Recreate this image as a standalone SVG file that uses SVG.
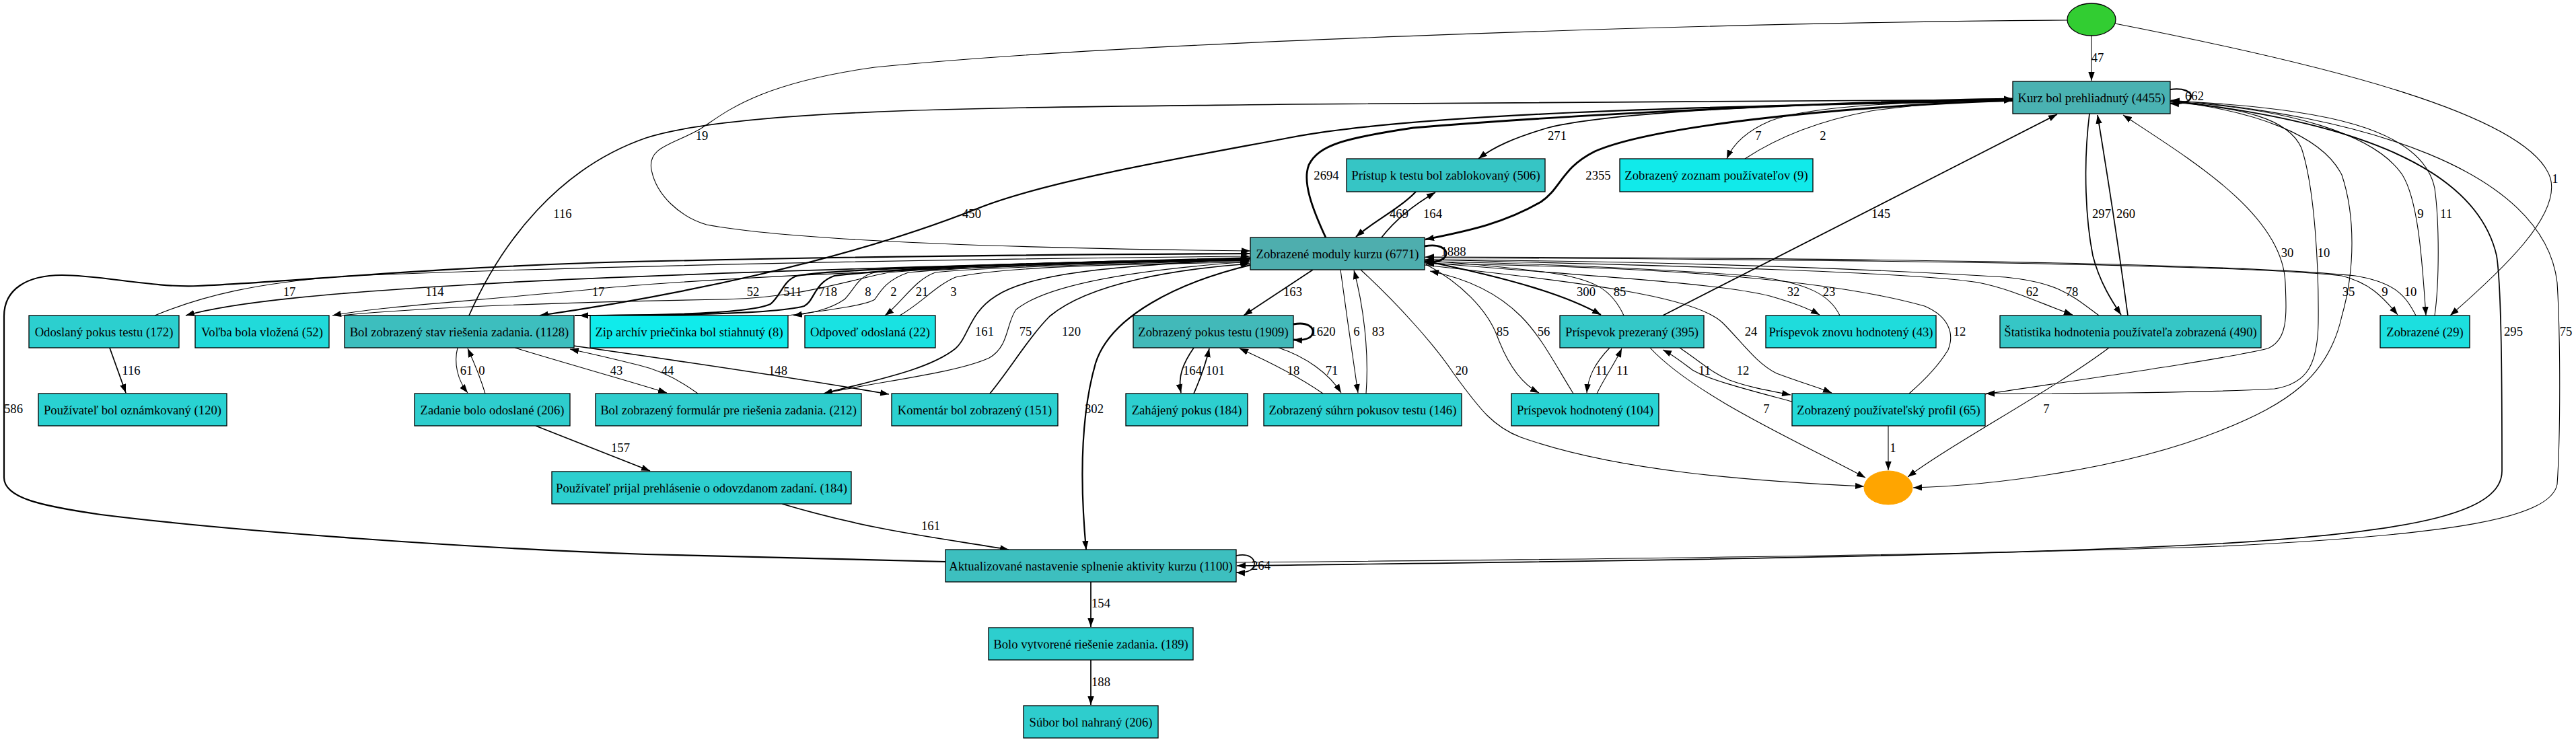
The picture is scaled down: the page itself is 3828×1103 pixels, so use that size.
<svg xmlns="http://www.w3.org/2000/svg" width="3828" height="1103" viewBox="0 0 3828 1103">
<style>
.n rect{stroke:#000;stroke-width:1.3}
.t{font-family:"Liberation Serif","Times New Roman",serif;font-size:18.67px;text-anchor:middle;fill:#000}
#edges path{fill:none;stroke:#000;marker-end:url(#a)}
.s1{stroke-width:1.1}
.s2{stroke-width:1.7}
.s3{stroke-width:2.2}
.s4{stroke-width:2.8}
</style>
<defs>
<marker id="a" markerUnits="userSpaceOnUse" markerWidth="14" markerHeight="10" refX="13" refY="5" orient="auto" viewBox="0 0 14 10">
<path d="M0,0.3 L13,5 L0,9.7 z" fill="#000"/>
</marker>
</defs>
<rect width="3828" height="1103" fill="#fff"/>
<g id="edges">
<path class="s1" d="M3108,53 L3108,120"/>
<path class="s1" d="M3143,35 C3450,95 3760,170 3790,265 C3805,320 3720,400 3641,469"/>
<path class="s1" d="M3072,30 C2600,33 1700,60 1300,100 C1120,125 1075,170 1040,192 C1000,215 962,218 968,252 C975,290 1010,322 1050,334 C1200,362 1600,370 1858,373"/>
<path class="s2" d="M697,469 C745,360 830,250 960,205 C1100,160 1500,160 1920,155 C2400,150 2800,149 2991,148"/>
<path class="s3" d="M2991,150 C2500,158 2100,170 1920,204 C1750,236 1550,270 1450,311 C1250,390 1000,440 802,469"/>
<path class="s4" d="M1970,353 C1950,310 1935,270 1945,245 C1960,215 2000,205 2100,190 C2400,165 2800,150 2991,147"/>
<path class="s4" d="M2991,149 C2700,160 2450,190 2370,225 C2320,250 2320,280 2290,300 C2230,335 2170,345 2118,356"/>
<path class="s2" d="M2991,148 C2600,155 2380,170 2300,190 C2250,205 2220,218 2197,236"/>
<path class="s1" d="M2991,148 C2800,152 2680,160 2630,180 C2595,195 2575,215 2566,236"/>
<path class="s1" d="M2593,236 C2640,205 2700,180 2780,165 C2850,155 2920,150 2991,149"/>
<path class="s3" d="M3225,133 C3246,130 3256,137 3256,143 C3256,150 3246,155 3225,154"/>
<path class="s2" d="M2471,469 L3057,170"/>
<path class="s2" d="M3105,169 C3095,250 3100,330 3110,380 C3120,420 3140,450 3152,468"/>
<path class="s2" d="M3162,469 C3150,380 3130,250 3117,171"/>
<path class="s1" d="M2950,586 C3100,563 3300,535 3370,518 C3400,505 3398,470 3396,420 C3392,320 3260,240 3155,171"/>
<path class="s1" d="M3225,152 C3330,160 3400,175 3420,220 C3440,280 3446,400 3445,480 C3444,540 3430,570 3380,578 C3250,585 3050,585 2951,585"/>
<path class="s1" d="M3225,150 C3350,165 3450,200 3480,260 C3500,320 3500,400 3480,470 C3460,560 3400,600 3300,640 C3150,700 2950,722 2843,725"/>
<path class="s1" d="M3225,151 C3400,160 3530,200 3570,260 C3595,300 3600,400 3605,469"/>
<path class="s1" d="M3618,469 C3625,420 3625,330 3618,280 C3600,190 3450,160 3226,150"/>
<path class="s2" d="M3225,150 C3500,180 3680,250 3710,380 C3718,430 3718,600 3718,700 C3718,760 3600,790 3300,808 C2900,830 2200,836 1838,841"/>
<path class="s1" d="M1837,836 C2300,832 2900,826 3300,812 C3650,795 3790,770 3800,720 C3805,650 3805,500 3800,420 C3780,250 3500,170 3226,149"/>
<path class="s2" d="M1837,826 C1856,822 1864,830 1864,838 C1864,846 1856,852 1837,851"/>
<path class="s3" d="M1405,835 C1250,830 1100,828 960,824 C700,815 350,790 150,765 C60,752 6,740 6,710 L6,470 C6,430 40,409 92,409 C150,409 230,428 294,425 C450,418 600,400 900,390 C1300,380 1600,378 1857,377"/>
<path class="s3" d="M1858,394 C1750,420 1650,470 1628,540 C1605,620 1605,720 1614,817"/>
<path class="s2" d="M1162,749 C1300,790 1400,800 1499,817"/>
<path class="s2" d="M796,633 L966,700"/>
<path class="s2" d="M1621,865 L1621,932"/>
<path class="s2" d="M1621,981 L1621,1048"/>
<path class="s2" d="M163,517 L187,584"/>
<path class="s1" d="M680,517 C674,540 680,565 695,584"/>
<path class="s1" d="M721,585 C715,565 705,540 695,518"/>
<path class="s1" d="M765,517 C840,540 930,565 991,584"/>
<path class="s1" d="M1037,585 C1010,565 980,550 950,543 C910,533 880,526 847,519"/>
<path class="s2" d="M852,514 C1000,535 1200,565 1321,586"/>
<path class="s2" d="M1858,384 C1700,395 1540,400 1480,440 C1440,465 1440,500 1420,518 C1380,550 1300,565 1224,585"/>
<path class="s1" d="M1224,585 C1300,568 1420,555 1470,532 C1500,515 1495,480 1510,460 C1560,420 1700,400 1857,389"/>
<path class="s2" d="M1471,585 C1500,550 1530,500 1560,470 C1620,420 1750,400 1857,392"/>
<path class="s1" d="M230,469 C300,440 380,420 520,410 C900,395 1400,385 1857,381"/>
<path class="s2" d="M1858,383 C1400,395 900,410 700,423 C500,435 350,448 276,469"/>
<path class="s1" d="M1858,385 C1500,395 1100,410 900,428 C700,448 560,456 494,469"/>
<path class="s1" d="M505,469 C650,455 900,448 1080,445 C1180,443 1250,420 1320,405 C1500,390 1700,386 1857,385"/>
<path class="s3" d="M1858,384 C1550,392 1250,398 1185,410 C1165,415 1160,440 1145,452 C1110,468 950,469 861,469"/>
<path class="s3" d="M854,469 C950,469 1150,468 1195,455 C1210,448 1210,420 1240,410 C1400,392 1650,388 1856,387"/>
<path class="s1" d="M1858,386 C1650,390 1400,396 1300,405 C1275,410 1270,430 1255,445 C1230,462 1200,466 1179,469"/>
<path class="s1" d="M1171,469 C1220,462 1285,455 1300,445 C1310,430 1320,415 1350,405 C1500,392 1700,389 1856,388"/>
<path class="s1" d="M1858,387 C1650,392 1450,398 1390,405 C1360,415 1340,450 1315,469"/>
<path class="s1" d="M1337,469 C1370,450 1390,425 1420,412 C1500,395 1700,392 1856,390"/>
<path class="s2" d="M1951,401 L1848,469"/>
<path class="s4" d="M1922,482 C1944,478 1951,487 1951,493 C1951,500 1944,507 1922,505"/>
<path class="s2" d="M1774,517 C1758,540 1750,560 1755,584"/>
<path class="s2" d="M1774,585 C1785,560 1792,540 1797,518"/>
<path class="s1" d="M1966,585 C1930,560 1880,535 1842,518"/>
<path class="s1" d="M1900,517 C1940,530 1975,555 1993,584"/>
<path class="s1" d="M1992,401 C2000,460 2010,530 2018,584"/>
<path class="s1" d="M2030,585 C2035,520 2025,450 2012,402"/>
<path class="s4" d="M2117,366 C2140,362 2149,370 2149,377 C2149,384 2140,391 2117,389"/>
<path class="s1" d="M2119,393 C2170,420 2210,460 2225,500 C2240,540 2260,570 2287,584"/>
<path class="s1" d="M2338,585 C2310,540 2290,500 2260,470 C2220,430 2170,412 2125,403"/>
<path class="s3" d="M2117,388 C2250,415 2330,440 2379,468"/>
<path class="s1" d="M2413,469 C2395,430 2370,415 2300,405 C2220,395 2160,390 2118,388"/>
<path class="s1" d="M2392,517 C2370,540 2360,560 2358,584"/>
<path class="s1" d="M2373,585 C2385,560 2400,540 2410,518"/>
<path class="s1" d="M2496,517 C2530,540 2545,555 2570,565 C2600,576 2630,581 2661,587"/>
<path class="s1" d="M2663,597 C2600,580 2540,565 2515,550 C2495,535 2485,527 2471,520"/>
<path class="s1" d="M2452,517 C2520,590 2680,660 2772,710"/>
<path class="s1" d="M2022,401 C2075,450 2130,510 2160,555 C2200,610 2220,635 2260,650 C2400,700 2600,715 2770,723"/>
<path class="s1" d="M2806,633 L2806,699"/>
<path class="s1" d="M3134,517 C3050,580 2900,660 2835,709"/>
<path class="s1" d="M2117,390 C2350,410 2550,420 2630,440 C2665,450 2690,460 2704,468"/>
<path class="s1" d="M2734,469 C2720,440 2690,420 2600,410 C2400,395 2200,390 2118,389"/>
<path class="s1" d="M2117,386 C2500,395 2850,405 2940,420 C2990,430 3030,450 3080,468"/>
<path class="s1" d="M3119,469 C3080,440 3060,420 2980,412 C2700,395 2400,388 2118,386"/>
<path class="s1" d="M2117,383 C2600,385 3300,390 3480,410 C3520,420 3540,440 3563,468"/>
<path class="s1" d="M3590,469 C3575,440 3560,420 3500,410 C3300,390 2700,383 2118,382"/>
<path class="s1" d="M2837,585 C2860,565 2880,545 2895,520 C2905,495 2895,470 2860,455 C2700,410 2400,395 2118,392"/>
<path class="s1" d="M2117,394 C2350,420 2520,440 2560,480 C2590,510 2610,540 2640,555 C2680,570 2700,575 2722,584"/>
<path class="s3" d="M2104,285 C2080,310 2040,330 2015,352"/>
<path class="s2" d="M2053,353 C2075,325 2100,305 2133,286"/>
</g>
<g id="edge-labels" class="t">
<text x="3117" y="92">47</text>
<text x="3797" y="272">1</text>
<text x="1043" y="208">19</text>
<text x="836" y="324">116</text>
<text x="1444" y="324">450</text>
<text x="1971" y="267">2694</text>
<text x="2375" y="267">2355</text>
<text x="2314" y="208">271</text>
<text x="2613" y="208">7</text>
<text x="2709" y="208">2</text>
<text x="3261" y="149">662</text>
<text x="2795" y="324">145</text>
<text x="3123" y="324">297</text>
<text x="3159" y="324">260</text>
<text x="3399" y="382">30</text>
<text x="3453" y="382">10</text>
<text x="3490" y="440">35</text>
<text x="3597" y="324">9</text>
<text x="3635" y="324">11</text>
<text x="3735" y="499">295</text>
<text x="3813" y="499">75</text>
<text x="1874" y="847">264</text>
<text x="20" y="614">586</text>
<text x="1626" y="614">302</text>
<text x="1383" y="788">161</text>
<text x="922" y="672">157</text>
<text x="1636" y="903">154</text>
<text x="1636" y="1020">188</text>
<text x="195" y="557">116</text>
<text x="693" y="557">61</text>
<text x="716" y="557">0</text>
<text x="916" y="557">43</text>
<text x="992" y="557">44</text>
<text x="1156" y="557">148</text>
<text x="1463" y="499">161</text>
<text x="1524" y="499">75</text>
<text x="1592" y="499">120</text>
<text x="430" y="440">17</text>
<text x="646" y="440">114</text>
<text x="889" y="440">17</text>
<text x="1119" y="440">52</text>
<text x="1178" y="440">511</text>
<text x="1230" y="440">718</text>
<text x="1290" y="440">8</text>
<text x="1328" y="440">2</text>
<text x="1370" y="440">21</text>
<text x="1417" y="440">3</text>
<text x="1921" y="440">163</text>
<text x="1966" y="499">1620</text>
<text x="1772" y="557">164</text>
<text x="1806" y="557">101</text>
<text x="1922" y="557">18</text>
<text x="1979" y="557">71</text>
<text x="2016" y="499">6</text>
<text x="2048" y="499">83</text>
<text x="2160" y="380">1888</text>
<text x="2233" y="499">85</text>
<text x="2294" y="499">56</text>
<text x="2357" y="440">300</text>
<text x="2407" y="440">85</text>
<text x="2380" y="557">11</text>
<text x="2411" y="557">11</text>
<text x="2590" y="557">12</text>
<text x="2533" y="557">11</text>
<text x="2625" y="614">7</text>
<text x="2172" y="557">20</text>
<text x="2813" y="672">1</text>
<text x="3041" y="614">7</text>
<text x="2665" y="440">32</text>
<text x="2718" y="440">23</text>
<text x="3020" y="440">62</text>
<text x="3079" y="440">78</text>
<text x="3544" y="440">9</text>
<text x="3582" y="440">10</text>
<text x="2912" y="499">12</text>
<text x="2602" y="499">24</text>
<text x="2079" y="324">469</text>
<text x="2129" y="324">164</text>
</g>
<g id="n_start"><ellipse cx="3108" cy="29" rx="36" ry="24" fill="#32CD32" stroke="#000" stroke-width="1.3"/></g>
<g id="n_end"><ellipse cx="2806" cy="725" rx="36" ry="25" fill="#FFA500" stroke="#FFA500"/></g>
<g id="n_kurz" class="n"><rect x="2991" y="121" width="234" height="48" fill="#4AB2B2"/><text class="t" x="3108" y="151.5">Kurz bol prehliadnutý (4455)</text></g>
<g id="n_moduly" class="n"><rect x="1858" y="353" width="259" height="48" fill="#4EAEAE"/><text class="t" x="1987.5" y="383.5">Zobrazené moduly kurzu (6771)</text></g>
<g id="n_pristup" class="n"><rect x="2001" y="236" width="295" height="49" fill="#36C5C5"/><text class="t" x="2148.5" y="267">Prístup k testu bol zablokovaný (506)</text></g>
<g id="n_zoznam" class="n"><rect x="2407" y="236" width="287" height="49" fill="#11EAEA"/><text class="t" x="2550.5" y="267">Zobrazený zoznam používateľov (9)</text></g>
<g id="n_odoslany" class="n"><rect x="43" y="469" width="223" height="48" fill="#2CCFCF"/><text class="t" x="154.5" y="499.5">Odoslaný pokus testu (172)</text></g>
<g id="n_volba" class="n"><rect x="290" y="469" width="199" height="48" fill="#21DADA"/><text class="t" x="389.5" y="499.5">Voľba bola vložená (52)</text></g>
<g id="n_stav" class="n"><rect x="512" y="469" width="341" height="48" fill="#3DBEBE"/><text class="t" x="682.5" y="499.5">Bol zobrazený stav riešenia zadania. (1128)</text></g>
<g id="n_zip" class="n"><rect x="877" y="469" width="294" height="48" fill="#10EBEB"/><text class="t" x="1024" y="499.5">Zip archív priečinka bol stiahnutý (8)</text></g>
<g id="n_odpoved" class="n"><rect x="1196" y="469" width="194" height="48" fill="#19E2E2"/><text class="t" x="1293" y="499.5">Odpoveď odoslaná (22)</text></g>
<g id="n_pokus" class="n"><rect x="1684" y="469" width="238" height="48" fill="#42B9B9"/><text class="t" x="1803" y="499.5">Zobrazený pokus testu (1909)</text></g>
<g id="n_prezerany" class="n"><rect x="2318" y="469" width="214" height="48" fill="#34C8C8"/><text class="t" x="2425" y="499.5">Príspevok prezeraný (395)</text></g>
<g id="n_znovu" class="n"><rect x="2624" y="469" width="253" height="48" fill="#1FDCDC"/><text class="t" x="2750.5" y="499.5">Príspevok znovu hodnotený (43)</text></g>
<g id="n_statistika" class="n"><rect x="2972" y="469" width="388" height="48" fill="#36C6C6"/><text class="t" x="3166" y="499.5">Štatistika hodnotenia používateľa zobrazená (490)</text></g>
<g id="n_zobrazene" class="n"><rect x="3537" y="469" width="133" height="48" fill="#1CDFDF"/><text class="t" x="3603.5" y="499.5">Zobrazené (29)</text></g>
<g id="n_oznamkovany" class="n"><rect x="57" y="585" width="280" height="48" fill="#29D2D2"/><text class="t" x="197" y="615.5">Používateľ bol oznámkovaný (120)</text></g>
<g id="n_zadanie" class="n"><rect x="616" y="585" width="231" height="48" fill="#2ECDCD"/><text class="t" x="731.5" y="615.5">Zadanie bolo odoslané (206)</text></g>
<g id="n_formular" class="n"><rect x="885" y="585" width="395" height="48" fill="#2ECDCD"/><text class="t" x="1082.5" y="615.5">Bol zobrazený formulár pre riešenia zadania. (212)</text></g>
<g id="n_komentar" class="n"><rect x="1325" y="585" width="247" height="48" fill="#2BD0D0"/><text class="t" x="1448.5" y="615.5">Komentár bol zobrazený (151)</text></g>
<g id="n_zahajeny" class="n"><rect x="1673" y="585" width="181" height="48" fill="#2DCFCF"/><text class="t" x="1763.5" y="615.5">Zahájený pokus (184)</text></g>
<g id="n_suhrn" class="n"><rect x="1878" y="585" width="294" height="48" fill="#2BD1D1"/><text class="t" x="2025" y="615.5">Zobrazený súhrn pokusov testu (146)</text></g>
<g id="n_hodnoteny" class="n"><rect x="2246" y="585" width="219" height="48" fill="#28D4D4"/><text class="t" x="2355.5" y="615.5">Príspevok hodnotený (104)</text></g>
<g id="n_profil" class="n"><rect x="2663" y="585" width="287" height="48" fill="#23D8D8"/><text class="t" x="2806.5" y="615.5">Zobrazený používateľský profil (65)</text></g>
<g id="n_prijal" class="n"><rect x="820" y="701" width="445" height="48" fill="#2DCFCF"/><text class="t" x="1042.5" y="731.5">Používateľ prijal prehlásenie o odovzdanom zadaní. (184)</text></g>
<g id="n_aktualizovane" class="n"><rect x="1405" y="817" width="432" height="48" fill="#3DBFBF"/><text class="t" x="1621" y="847.5">Aktualizované nastavenie splnenie aktivity kurzu (1100)</text></g>
<g id="n_vytvorene" class="n"><rect x="1469" y="933" width="304" height="48" fill="#2DCECE"/><text class="t" x="1621" y="963.5">Bolo vytvorené riešenie zadania. (189)</text></g>
<g id="n_subor" class="n"><rect x="1521" y="1049" width="200" height="48" fill="#2ECDCD"/><text class="t" x="1621" y="1079.5">Súbor bol nahraný (206)</text></g>
</svg>
